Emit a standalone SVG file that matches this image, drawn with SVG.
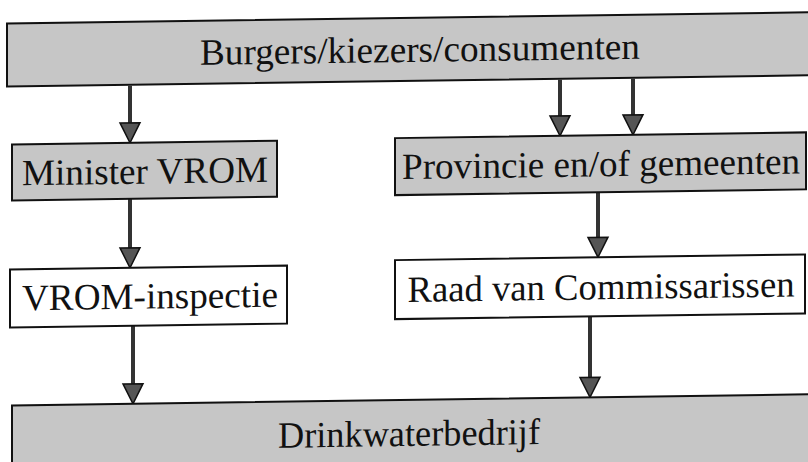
<svg xmlns="http://www.w3.org/2000/svg" width="808" height="462" viewBox="0 0 808 462">
<style>
.box{stroke:#111;stroke-width:2}
.gray{fill:#c6c6c6}
.white{fill:#fff}
.lbl{font-size:37px;fill:#111;text-anchor:middle}
.shaft{stroke:#333;stroke-width:4;fill:none}
.head{fill:#555;stroke:#111;stroke-width:1.5;stroke-linejoin:miter}
</style>
<rect width="808" height="462" fill="#fff"/>
<g transform="translate(404,0) skewY(-0.8) translate(-404,0)" font-family="Liberation Serif, Tinos, DejaVu Serif, serif">
<g id="connectors">
  <line class="shaft" x1="130" y1="82" x2="130" y2="121"/>
  <polygon class="head" points="120,119 140,119 130,139"/>
  <line class="shaft" x1="560" y1="82" x2="560" y2="120"/>
  <polygon class="head" points="550,118 570,118 560,138"/>
  <line class="shaft" x1="633" y1="82" x2="633" y2="120"/>
  <polygon class="head" points="623,118 643,118 633,138"/>
  <line class="shaft" x1="130" y1="195" x2="130" y2="246"/>
  <polygon class="head" points="120,244 140,244 130,264"/>
  <line class="shaft" x1="598" y1="195" x2="598" y2="242"/>
  <polygon class="head" points="588,240 608,240 598,260"/>
  <line class="shaft" x1="133" y1="322" x2="133" y2="382"/>
  <polygon class="head" points="123,380 143,380 133,400"/>
  <line class="shaft" x1="590" y1="319" x2="590" y2="382"/>
  <polygon class="head" points="580,380 600,380 590,400"/>
</g>
<g id="burgers">
  <rect class="box gray" x="7" y="18" width="820" height="63"/>
  <text class="lbl" x="420" y="62" textLength="440" lengthAdjust="spacingAndGlyphs" font-family="Liberation Serif, serif">Burgers/kiezers/consumenten</text>
</g>
<g id="minister">
  <rect class="box gray" x="12" y="139" width="265" height="56"/>
  <text class="lbl" x="145" y="180" textLength="246" lengthAdjust="spacingAndGlyphs" font-family="Liberation Serif, serif">Minister VROM</text>
</g>
<g id="provincie">
  <rect class="box gray" x="395" y="138" width="411" height="57"/>
  <text class="lbl" x="601" y="179" textLength="398" lengthAdjust="spacingAndGlyphs" font-family="Liberation Serif, serif">Provincie en/of gemeenten</text>
</g>
<g id="vrom-inspectie">
  <rect class="box white" x="10" y="264" width="277" height="58"/>
  <text class="lbl" x="150" y="305" textLength="256" lengthAdjust="spacingAndGlyphs" font-family="Liberation Serif, serif">VROM-inspectie</text>
</g>
<g id="raad">
  <rect class="box white" x="395" y="260" width="410" height="59"/>
  <text class="lbl" x="601" y="302" textLength="387" lengthAdjust="spacingAndGlyphs" font-family="Liberation Serif, serif">Raad van Commissarissen</text>
</g>
<g id="drinkwaterbedrijf">
  <rect class="box gray" x="12" y="400" width="820" height="70"/>
  <text class="lbl" x="409" y="446" textLength="262" lengthAdjust="spacingAndGlyphs" font-family="Liberation Serif, serif">Drinkwaterbedrijf</text>
</g>
</g>
</svg>
